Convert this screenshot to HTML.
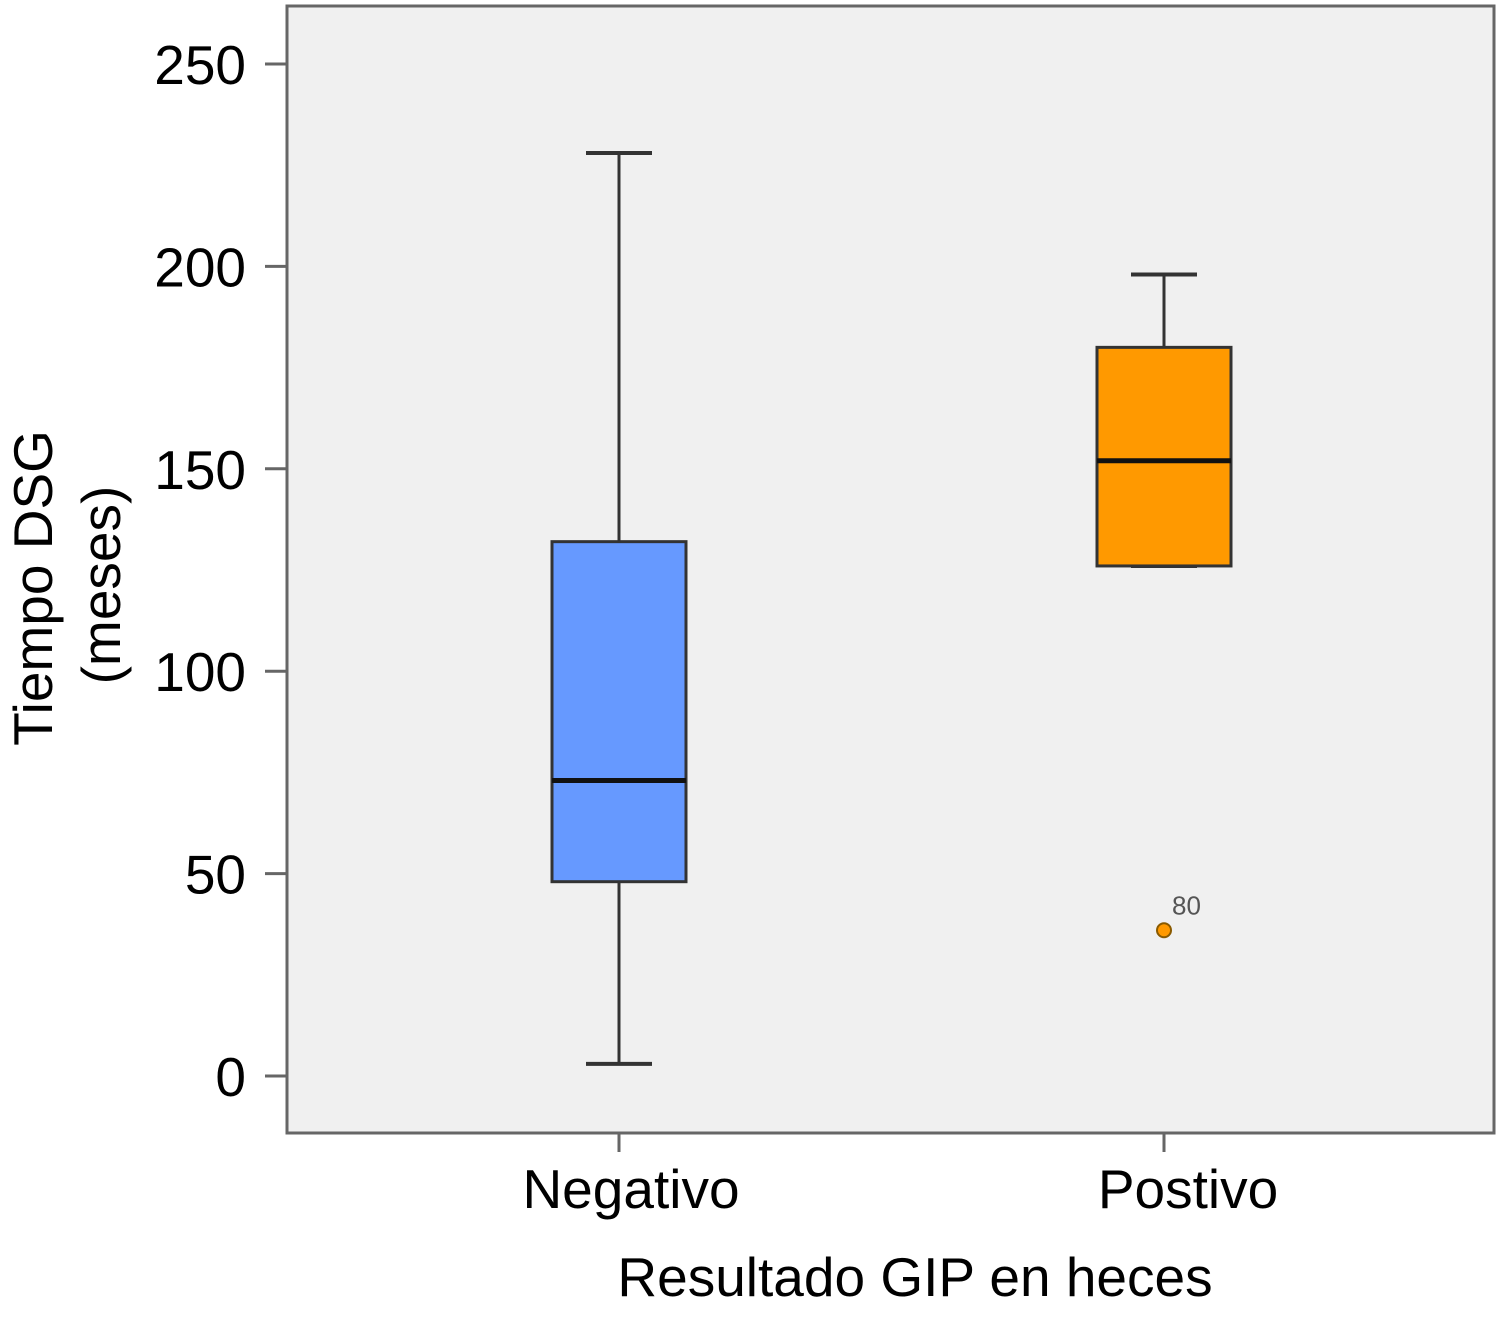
<!DOCTYPE html>
<html><head><meta charset="utf-8"><style>
html,body{margin:0;padding:0;background:#fff;}
svg text{font-family:"Liberation Sans",Arial,sans-serif;}
</style></head><body>
<svg id="chart" width="1505" height="1313" viewBox="0 0 1505 1313" xmlns="http://www.w3.org/2000/svg">
<rect x="287" y="6" width="1207" height="1127" fill="#f0f0f0" stroke="#666" stroke-width="3"/>
<g id="yaxis"></g>
<g id="xaxis"></g>
<g id="boxes"></g>
<text transform="translate(52,588) rotate(-90)" text-anchor="middle" font-size="55">Tiempo DSG</text>
<text transform="translate(120,585) rotate(-90)" text-anchor="middle" font-size="55">(meses)</text>
<text x="915" y="1296" text-anchor="middle" font-size="55">Resultado GIP en heces</text>
</svg>
<script>
const categories=["Negativo","Postivo"];
const whiskerLow=[3,126];
const whiskerHigh=[228,198];
const q1s=[48,126];
const medians=[73,152];
const q3s=[132,180];
const outliers=[[],[36]];
const outlierLabels=[[],["80"]];
const colors=["#6699ff","#ff9900"];
const yTicks=[0,50,100,150,200,250];
const NS="http://www.w3.org/2000/svg";
function y(v){return 1076-v*4.048;}
function x(i){return 619+i*545;}
function mk(tag,attrs,parent){const e=document.createElementNS(NS,tag);for(const k in attrs)e.setAttribute(k,attrs[k]);parent.appendChild(e);return e;}
const ya=document.getElementById('yaxis'),xa=document.getElementById('xaxis'),bx=document.getElementById('boxes');
yTicks.forEach(t=>{
 const l=mk('line',{x1:265,x2:287,y1:y(t),y2:y(t),stroke:'#666','stroke-width':3},ya);
 
 
 const tx=mk('text',{x:246,y:y(t)+20,'text-anchor':'end','font-size':55},ya);
 tx.textContent=t;
 
 
});
categories.forEach((c,i)=>{
 const cx=x(i);
 const t=mk('line',{x1:cx,x2:cx,y1:1133,y2:1152,stroke:'#666','stroke-width':3},xa);
 
 
 const lb=mk('text',{x:cx+12+i*12,y:1208,'text-anchor':'middle','font-size':55},xa);
 lb.textContent=c;
 
 
 const g=mk('g',{},bx);
 
 
 mk('line',{x1:cx,x2:cx,y1:y(whiskerHigh[i]),y2:y(q3s[i]),stroke:'#333','stroke-width':3},g);
 mk('line',{x1:cx,x2:cx,y1:y(q1s[i]),y2:y(whiskerLow[i]),stroke:'#333','stroke-width':3},g);
 mk('line',{x1:cx-33,x2:cx+33,y1:y(whiskerHigh[i]),y2:y(whiskerHigh[i]),stroke:'#333','stroke-width':4},g);
 mk('line',{x1:cx-33,x2:cx+33,y1:y(whiskerLow[i]),y2:y(whiskerLow[i]),stroke:'#333','stroke-width':4},g);
 mk('rect',{x:cx-67,y:y(q3s[i]),width:134,height:y(q1s[i])-y(q3s[i]),fill:colors[i],stroke:'#333','stroke-width':3},g);
 mk('line',{x1:cx-67,x2:cx+67,y1:y(medians[i]),y2:y(medians[i]),stroke:'#111','stroke-width':5},g);
 outliers[i].forEach((o,j)=>{
  const p=mk('circle',{cx:cx,cy:y(o),r:7,fill:colors[i],stroke:'#8a5a00','stroke-width':2},g);
  
  
  const ot=mk('text',{x:cx+8,y:y(o)-16,'font-size':26,fill:'#555'},g);
  ot.textContent=outlierLabels[i][j];
  
  
 });
});
</script>
</body></html>
